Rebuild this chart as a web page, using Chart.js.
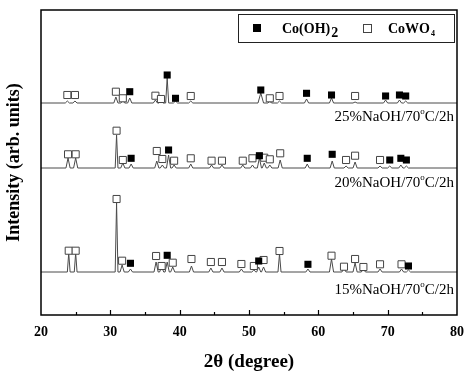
<!DOCTYPE html>
<html>
<head>
<meta charset="utf-8">
<script src="https://cdn.jsdelivr.net/npm/chart.js@4.4.0/dist/chart.umd.min.js"></script>
<style>
  html, body { margin: 0; padding: 0; background: #fff; }
</style>
</head>
<body>
<canvas id="xrd" width="473" height="375"></canvas>
<script>
// --- datos ---
// baselines (unidades arbitrarias, eje 0..305)
const base25 = 212;
const base20 = 147;
const base15 = 43;

// picos: [2theta, altura, semiancho]
const peaks25 = [[23.8,2],[24.9,2],[30.8,6],[31.8,2],[32.8,5],[36.5,3],[37.3,2],[38.2,25,0.22],[39.4,2],[41.6,2],
  [51.7,10,0.4],[53.0,1.5],[54.4,2],[58.3,4],[61.9,5],[65.3,1],[69.7,3],[71.7,3],[72.6,2]];
const peaks20 = [[23.9,10],[25.0,10],[30.9,33,0.2],[31.8,5],[33.0,4],[36.7,7],[37.5,3],[38.4,13],[39.2,3],[41.6,4],
  [44.6,3],[46.1,3],[49.1,3],[50.5,3],[51.5,10],[52.2,5],[53.0,3],[54.5,8],[58.4,4],[62.0,7],[64.0,2],[65.3,6],
  [68.9,2],[70.3,2],[71.9,3],[72.7,2]];
const peaks15 = [[24.0,19,0.2],[25.0,19,0.2],[30.9,69,0.2],[31.7,7],[32.9,3],[36.6,10],[37.4,5],[38.2,10],[39.0,5],[41.7,6],
  [44.5,4],[46.1,4],[48.9,3],[50.7,2],[51.4,5],[52.1,5],[54.4,18,0.22],[58.5,3],[61.9,13],[63.7,4],[65.3,9],[66.5,3],
  [68.9,3],[72.0,3],[73.0,2]];

// marcadores de fase: [2theta, y]
const cooh25 = [[32.8,223.3],[38.2,240],[39.4,216.7],[51.7,225],[58.3,221.7],[61.9,220],[69.7,219],[71.7,220],[72.6,219]];
const cowo25 = [[23.8,220],[24.9,220],[30.8,223.3],[31.8,216.7],[36.5,219.3],[37.3,216],[41.6,219],[53.0,216.7],[54.4,219],[65.3,219]];
const cooh20 = [[33.0,156.7],[38.4,165],[51.5,159.3],[58.4,156.7],[62.0,160.7],[70.3,155],[71.9,156.7],[72.7,155]];
const cowo20 = [[23.9,160.7],[25.0,160.7],[30.9,184.3],[31.8,155],[36.7,164],[37.5,156],[39.2,154.3],[41.6,156.7],
  [44.6,154.3],[46.1,154.3],[49.1,154.3],[50.5,156.7],[52.2,157.3],[53.0,155.7],[54.5,161.7],[64.0,155],[65.3,159.3],[68.9,155]];
const cooh15 = [[32.9,51.7],[38.2,59.7],[51.4,54],[58.5,50.7],[73.0,49]];
const cowo15 = [[24.0,64.3],[25.0,64.3],[30.9,116],[31.7,54.3],[36.6,59],[37.4,49],[39.0,52.3],[41.7,56],[44.5,53],
  [46.1,53],[48.9,51],[50.7,49],[52.1,55],[54.4,64],[61.9,59.3],[63.7,48.3],[65.3,56],[66.5,48],[68.9,50.7],[72.0,50.7]];

const labels = ['25%NaOH/70', '20%NaOH/70', '15%NaOH/70'];
const xTicks = [20, 30, 40, 50, 60, 70, 80];

// construye la línea: baseline, y cada pico con dos puntos de base
function trazo(base, peaks) {
  const pts = [{ x: 20, y: base }];
  peaks.forEach(([p, h, w]) => {
    const hw = w || 0.3;
    pts.push({ x: p - hw, y: base }, { x: p, y: base + h }, { x: p + hw, y: base });
  });
  pts.push({ x: 80, y: base });
  return pts;
}
const aXY = arr => arr.map(([x, y]) => ({ x, y }));

const SERIF = '"Liberation Serif", "Times New Roman", serif';

// plugin: marco, ticks hacia dentro, leyenda y etiquetas
const decoracion = {
  id: 'decoracion',
  afterDraw(chart) {
    const { ctx, chartArea: a, scales } = chart;
    ctx.save();
    ctx.strokeStyle = '#000';
    ctx.lineWidth = 1.5;
    ctx.strokeRect(a.left, a.top, a.right - a.left, a.bottom - a.top);

    // ticks
    ctx.lineWidth = 1.2;
    for (let v = 25; v < 80; v += 5) {
      const x = Math.round(scales.x.getPixelForValue(v)) + 0.5;
      const len = v % 10 === 0 ? 5 : 3;
      ctx.beginPath();
      ctx.moveTo(x, a.bottom);
      ctx.lineTo(x, a.bottom - len);
      ctx.stroke();
    }

    // leyenda
    ctx.lineWidth = 1;
    ctx.strokeStyle = '#222';
    ctx.strokeRect(238.5, 14.5, 216, 28);
    ctx.fillStyle = '#000';
    ctx.fillRect(253, 24, 8, 8);
    ctx.fillStyle = '#fff';
    ctx.strokeStyle = '#444';
    ctx.fillRect(363.5, 24.5, 8, 8);
    ctx.strokeRect(363.5, 24.5, 8, 8);
    ctx.fillStyle = '#000';
    ctx.textBaseline = 'alphabetic';
    ctx.textAlign = 'left';
    ctx.font = 'bold 14px ' + SERIF;
    ctx.fillText('Co(OH)', 282, 33);
    let w = ctx.measureText('Co(OH)').width;
    ctx.fillText('2', 282 + w + 1, 37);
    ctx.fillText('CoWO', 388, 33);
    w = ctx.measureText('CoWO').width;
    ctx.font = 'bold 8px ' + SERIF;
    ctx.fillText('4', 388 + w + 1, 36);

    // etiquetas de muestra
    const ys = [121, 187, 294];
    labels.forEach((txt, i) => {
      const right = 454;
      ctx.font = '15px ' + SERIF;
      const tail = 'C/2h';
      const wt = ctx.measureText(tail).width;
      ctx.textAlign = 'right';
      ctx.fillText(tail, right, ys[i]);
      ctx.font = '9px ' + SERIF;
      const wo = ctx.measureText('o').width;
      ctx.fillText('o', right - wt, ys[i] - 7);
      ctx.font = '15px ' + SERIF;
      ctx.fillText(txt, right - wt - wo, ys[i]);
    });
    ctx.restore();
  }
};

const lineaBase = { type: 'line', borderColor: '#4a4a4a', borderWidth: 1, pointRadius: 0, tension: 0, fill: false, order: 2 };

new Chart(document.getElementById('xrd'), {
  type: 'line',
  data: {
    datasets: [
      { ...lineaBase, data: trazo(base25, peaks25) },
      { ...lineaBase, data: trazo(base20, peaks20) },
      { ...lineaBase, data: trazo(base15, peaks15) },
      {
        type: 'scatter', order: 0, data: aXY([...cooh25, ...cooh20, ...cooh15]),
        pointStyle: 'rect', pointRadius: 5, backgroundColor: '#000', borderColor: '#000', borderWidth: 0
      },
      {
        type: 'scatter', order: 1, data: aXY([...cowo25, ...cowo20, ...cowo15]),
        pointStyle: 'rect', pointRadius: 5, backgroundColor: '#fff', borderColor: '#444', borderWidth: 1
      }
    ]
  },
  options: {
    responsive: false,
    animation: false,
    events: [],
    layout: { padding: { top: 10, right: 13, left: 0, bottom: 0 } },
    plugins: { legend: { display: false }, tooltip: { enabled: false } },
    scales: {
      x: {
        type: 'linear', min: 20, max: 80,
        afterFit: s => { s.height = 60; },
        afterBuildTicks: s => { s.ticks = xTicks.map(v => ({ value: v })); },
        grid: { display: false, drawTicks: false },
        border: { display: false },
        ticks: { color: '#000', padding: 9, font: { family: SERIF, size: 14, weight: 'bold' } },
        title: { display: true, text: '2θ (degree)', color: '#000', padding: { top: 0, bottom: 2 },
          font: { family: SERIF, size: 19, weight: 'bold' } }
      },
      y: {
        min: 0, max: 305,
        afterFit: s => { s.width = 41; },
        grid: { display: false, drawTicks: false },
        border: { display: false },
        ticks: { display: false },
        title: { display: true, text: 'Intensity (arb. units)', color: '#000', padding: 4,
          font: { family: SERIF, size: 18, weight: 'bold' } }
      }
    }
  },
  plugins: [decoracion]
});
</script>
</body>
</html>
